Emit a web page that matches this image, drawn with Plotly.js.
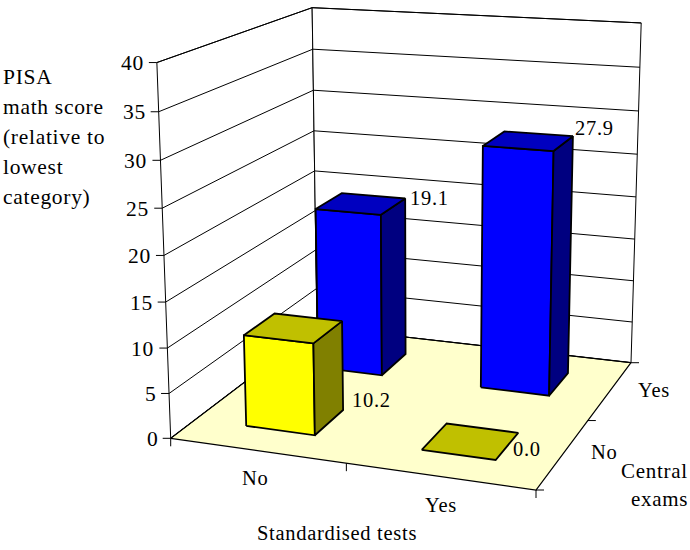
<!DOCTYPE html>
<html>
<head>
<meta charset="utf-8">
<script src="https://cdn.plot.ly/plotly-3.0.1.min.js"></script>
<style>
html,body{margin:0;padding:0;background:#fff;overflow:hidden}
#chart{width:690px;height:550px}
.annotation-text{letter-spacing:0.7px}
</style>
</head>
<body>
<div id="chart"></div>
<script>
// ---- data ----
const testsCategories = ['No', 'Yes'];
const examsCategories = ['No', 'Yes'];
const scoresExamsNo = [10.2, 0.0];
const scoresExamsYes = [19.1, 27.9];
const scoreTicks = [0, 5, 10, 15, 20, 25, 30, 35, 40];
const scoreMax = 40;
const yAxisTitleLines = ['PISA', 'math score', '(relative to', 'lowest', 'category)'];
const xAxisTitle = 'Standardised tests';
const depthAxisTitleLines = ['Central', 'exams'];

// ---- projection of the chart box (u: tests, v: exams, s: score) to page pixels ----
const cam = [[325.84, 205.15, -22, 170.7],
             [15.63, -50.59, -379, 438.3],
             [-0.07362, 0.18565, -0.052, 1]];
function P(u, v, s) {
  const t = s / scoreMax;
  const w = cam[2][0]*u + cam[2][1]*v + cam[2][2]*t + cam[2][3];
  return [(cam[0][0]*u + cam[0][1]*v + cam[0][2]*t + cam[0][3]) / w,
          (cam[1][0]*u + cam[1][1]*v + cam[1][2]*t + cam[1][3]) / w];
}
const barHalf = 0.1;
const traces = [];
function poly(points, fill, lineColor, lineWidth) {
  const xs = points.map(p => p[0]), ys = points.map(p => p[1]);
  xs.push(xs[0]); ys.push(ys[0]);
  traces.push({type:'scatter', mode:'lines', x:xs, y:ys, fill:'toself', fillcolor:fill,
    line:{color:lineColor, width:lineWidth, simplify:false}, hoverinfo:'skip', showlegend:false});
}
function segs(list, width, color) {
  const xs = [], ys = [];
  list.forEach(s => { xs.push(s[0][0], s[1][0], null); ys.push(s[0][1], s[1][1], null); });
  traces.push({type:'scatter', mode:'lines', x:xs, y:ys,
    line:{color:color||'#000', width:width, simplify:false}, hoverinfo:'skip', showlegend:false});
}
const off = (p, dx, dy) => [p[0]+dx, p[1]+dy];

// walls and floor
poly([P(0,0,0),P(0,1,0),P(0,1,scoreMax),P(0,0,scoreMax)], '#ffffff', '#000', 1);
poly([P(0,1,0),P(1,1,0),P(1,1,scoreMax),P(0,1,scoreMax)], '#ffffff', '#000', 1);
poly([P(0,0,0),P(1,0,0),P(1,1,0),P(0,1,0)], '#ffffcc', '#000', 1.2);

// gridlines and ticks
const grid = [];
scoreTicks.forEach(s => {
  grid.push([P(0,0,s),P(0,1,s)]);
  grid.push([P(0,1,s),P(1,1,s)]);
  grid.push([P(0,0,s),off(P(0,0,s),-8,0)]);
});
[0,0.5,1].forEach(u => grid.push([P(u,0,0),off(P(u,0,0),0,8)]));
[0,0.5,1].forEach(v => grid.push([P(1,v,0),off(P(1,v,0),8,0)]));
segs(grid, 1);

// bars, back row first
function bar(ui, vi, val, front, top, side) {
  const u0 = (ui+0.5)/2-barHalf, u1 = (ui+0.5)/2+barHalf;
  const v0 = (vi+0.5)/2-barHalf, v1 = (vi+0.5)/2+barHalf;
  if (val > 0) {
    poly([P(u0,v0,0),P(u1,v0,0),P(u1,v0,val),P(u0,v0,val)], front, '#000', 1.8);
    poly([P(u1,v0,0),P(u1,v1,0),P(u1,v1,val),P(u1,v0,val)], side, '#000', 1.8);
  }
  poly([P(u0,v0,val),P(u1,v0,val),P(u1,v1,val),P(u0,v1,val)], top, '#000', 1.8);
}
const blue = ['#0000ff','#0000c0','#000080'], yellow = ['#ffff00','#c0c000','#808000'];
scoresExamsYes.forEach((val,i) => bar(i,1,val,blue[0],blue[1],blue[2]));
scoresExamsNo.forEach((val,i) => bar(i,0,val,yellow[0],yellow[1],yellow[2]));

// text
const annotations = [];
function label(text, x, y, anchor, size) {
  annotations.push({x:x, y:y, xref:'x', yref:'y', text:text, showarrow:false, xanchor:anchor,
    yanchor:'middle', borderpad:0, font:{family:'"Liberation Serif", serif', size:size||20.5, color:'#000'}});
}
scoreTicks.forEach(s => { const p = P(0,0,s); label(String(s), p[0]-12, p[1]+0.5, 'right', 21.5); });
yAxisTitleLines.forEach((t,i) => label(t, 2, 77+i*30, 'left', 21.5));
label(testsCategories[0], 255, 478, 'center');
label(testsCategories[1], 441, 505, 'center');
label(examsCategories[1], 654, 390, 'center');
label(examsCategories[0], 604, 452, 'center');
label(xAxisTitle, 337, 533, 'center');
depthAxisTitleLines.forEach((t,i) => label(t, 689, 471+i*28, 'right', 21));
// data labels beside the bars
const labelOffsets = [[[9,79],[-6.5,16]],[[4,-1],[1,-8]]];
[scoresExamsNo, scoresExamsYes].forEach((row,vi) => row.forEach((val,ui) => {
  const p = P((ui+0.5)/2+barHalf, (vi+0.5)/2+barHalf, val);
  const o = labelOffsets[vi][ui];
  label(val.toFixed(1), p[0]+o[0], p[1]+o[1], 'left');
}));

Plotly.newPlot('chart', traces, {
  width:690, height:550, margin:{l:0,r:0,t:0,b:0},
  paper_bgcolor:'#fff', plot_bgcolor:'#fff', showlegend:false,
  xaxis:{range:[0,690], visible:false, fixedrange:true},
  yaxis:{range:[550,0], visible:false, fixedrange:true},
  annotations:annotations, hovermode:false
}, {displayModeBar:false, staticPlot:true});
</script>
</body>
</html>
